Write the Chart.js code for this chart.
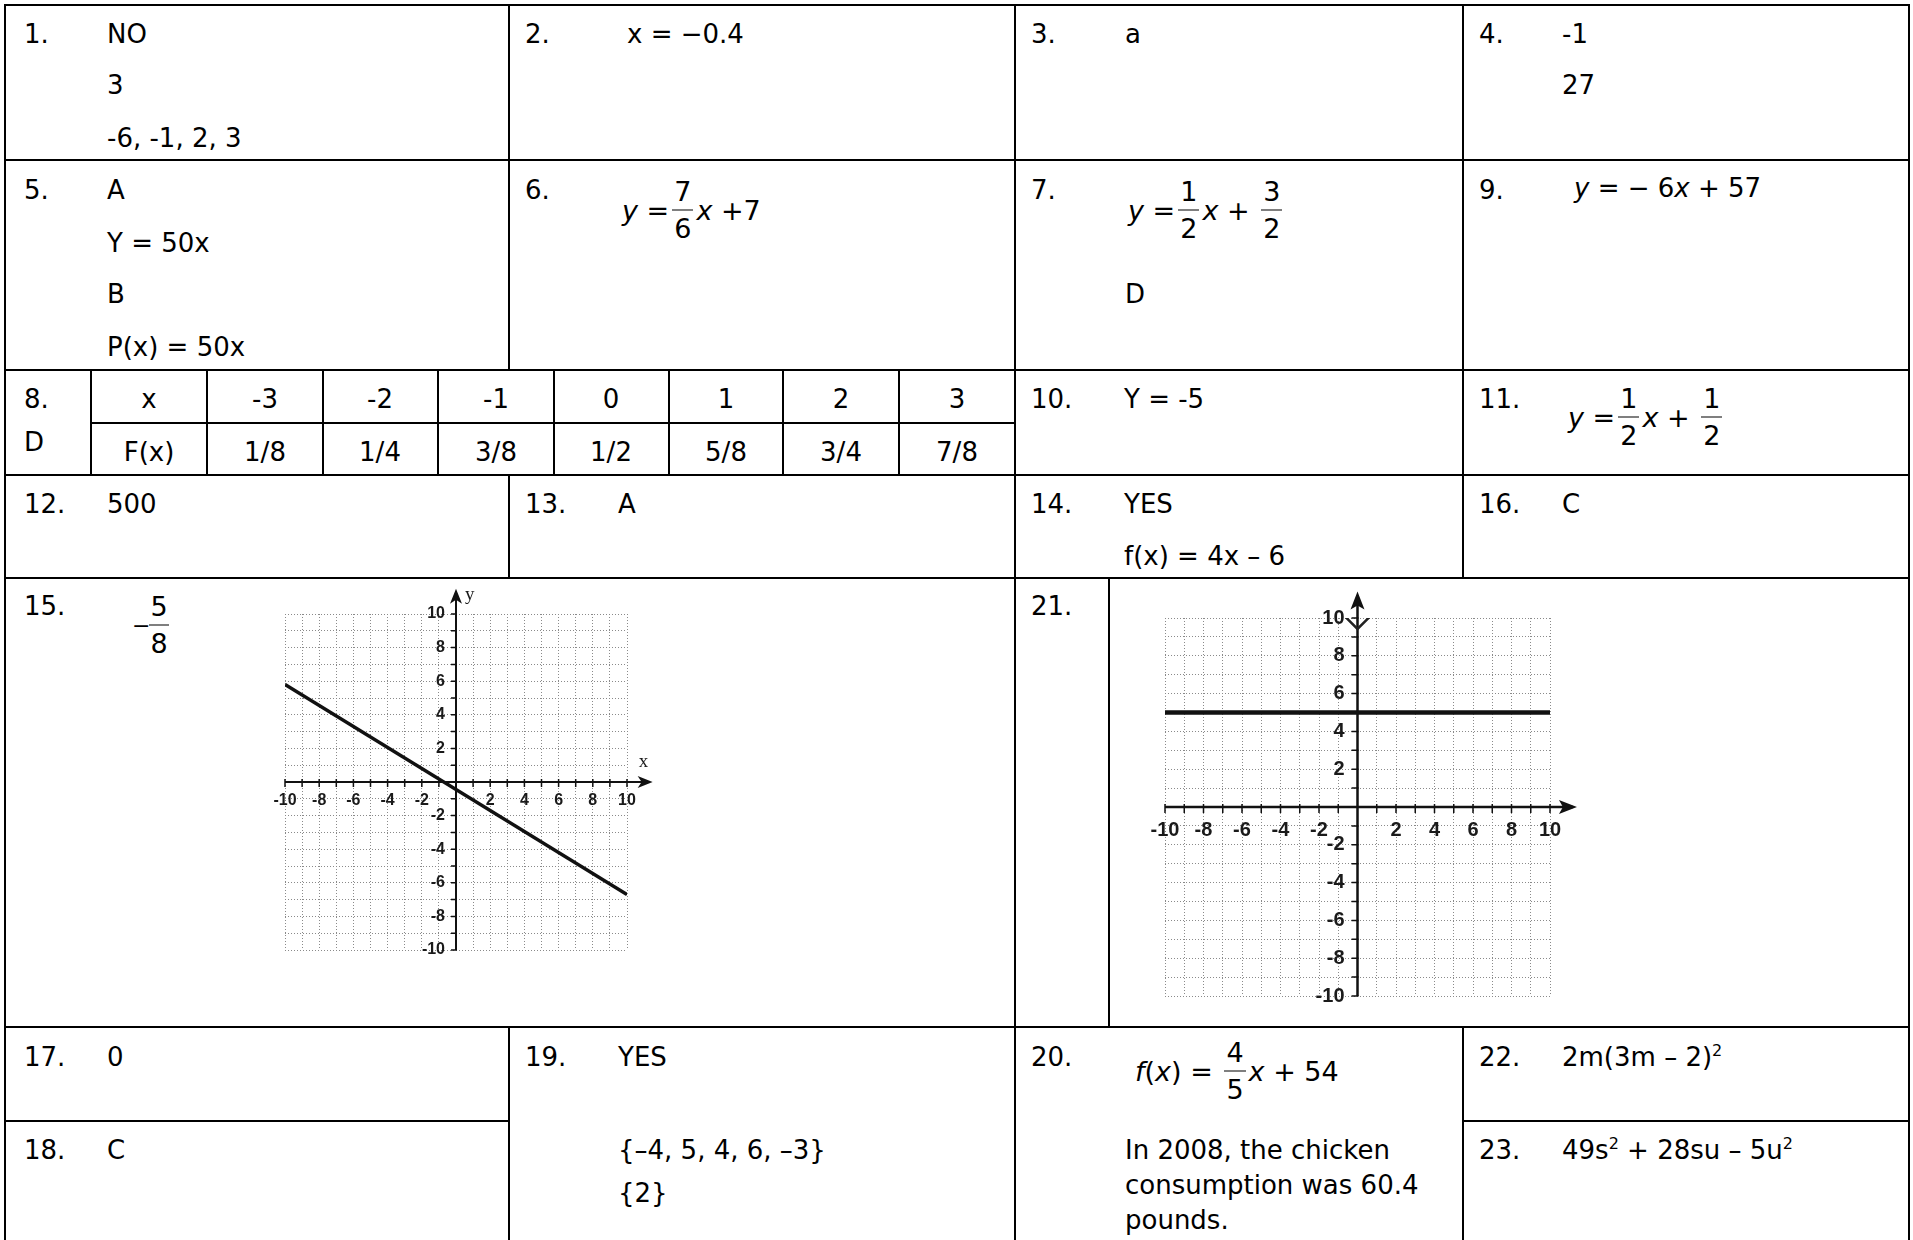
<!DOCTYPE html>
<html>
<head>
<meta charset="utf-8">
<script src="https://cdn.jsdelivr.net/npm/chart.js@4"></script>
<style>
body{margin:0;background:#fff;width:1913px;height:1240px;overflow:hidden;position:relative;font-family:"DejaVu Sans",Verdana,sans-serif;font-size:26px;color:#000}
.h{position:absolute;height:2px;background:#000}
.v{position:absolute;width:2px;background:#000}
.t{position:absolute;white-space:nowrap;line-height:32px;transform:translateY(-50%)}
.c{transform:translate(-50%,-50%)}
.eq{position:absolute;display:flex;align-items:center;white-space:nowrap;transform:translateY(-50%);font-size:27px}
.eq i{font-style:italic}
.fr{display:flex;flex-direction:column;align-items:center;margin:0 3px}
.fr span{line-height:28px;padding:0 2px}
.fr span:first-child{border-bottom:1.5px solid #000;padding-bottom:4px}
.fr span:last-child{padding-top:4px}
sup{font-size:16px;vertical-align:10px;line-height:0}
canvas{position:absolute}
</style>
</head>
<body>
<!-- table rules -->
<div class="h" style="left:4px;top:4px;width:1906px"></div>
<div class="h" style="left:4px;top:159px;width:1906px"></div>
<div class="h" style="left:4px;top:369px;width:1906px"></div>
<div class="h" style="left:90px;top:422px;width:925px"></div>
<div class="h" style="left:4px;top:474px;width:1906px"></div>
<div class="h" style="left:4px;top:577px;width:1906px"></div>
<div class="h" style="left:4px;top:1026px;width:1906px"></div>
<div class="h" style="left:4px;top:1120px;width:506px"></div>
<div class="h" style="left:1462px;top:1120px;width:448px"></div>

<div class="v" style="left:4px;top:4px;height:1236px"></div>
<div class="v" style="left:1908px;top:4px;height:1236px"></div>
<div class="v" style="left:1014px;top:4px;height:1236px"></div>
<div class="v" style="left:508px;top:4px;height:366px"></div>
<div class="v" style="left:508px;top:474px;height:104px"></div>
<div class="v" style="left:508px;top:1026px;height:214px"></div>
<div class="v" style="left:1462px;top:4px;height:574px"></div>
<div class="v" style="left:1462px;top:1026px;height:214px"></div>
<div class="v" style="left:1108px;top:577px;height:451px"></div>
<div class="v" style="left:90px;top:369px;height:106px"></div>
<div class="v" style="left:206px;top:369px;height:106px"></div>
<div class="v" style="left:322px;top:369px;height:106px"></div>
<div class="v" style="left:437px;top:369px;height:106px"></div>
<div class="v" style="left:553px;top:369px;height:106px"></div>
<div class="v" style="left:668px;top:369px;height:106px"></div>
<div class="v" style="left:782px;top:369px;height:106px"></div>
<div class="v" style="left:898px;top:369px;height:106px"></div>

<!-- row 1 -->
<div class="t" style="left:24px;top:34px">1.</div>
<div class="t" style="left:107px;top:34px">NO</div>
<div class="t" style="left:107px;top:85px">3</div>
<div class="t" style="left:107px;top:138px">-6, -1, 2, 3</div>
<div class="t" style="left:525px;top:34px">2.</div>
<div class="t" style="left:627px;top:34px">x = −0.4</div>
<div class="t" style="left:1031px;top:34px">3.</div>
<div class="t" style="left:1125px;top:34px">a</div>
<div class="t" style="left:1479px;top:34px">4.</div>
<div class="t" style="left:1562px;top:34px">-1</div>
<div class="t" style="left:1562px;top:85px">27</div>

<!-- row 2 -->
<div class="t" style="left:24px;top:190px">5.</div>
<div class="t" style="left:107px;top:190px">A</div>
<div class="t" style="left:107px;top:243px">Y = 50x</div>
<div class="t" style="left:107px;top:294px">B</div>
<div class="t" style="left:107px;top:347px">P(x) = 50x</div>
<div class="t" style="left:525px;top:190px">6.</div>
<div class="eq" style="left:622px;top:210px"><i>y</i>&nbsp;=<div class="fr"><span>7</span><span>6</span></div><i>x</i>&nbsp;+7</div>
<div class="t" style="left:1031px;top:190px">7.</div>
<div class="eq" style="left:1128px;top:210px"><i>y</i>&nbsp;=<div class="fr"><span>1</span><span>2</span></div><i>x</i>&nbsp;+&nbsp;<div class="fr"><span>3</span><span>2</span></div></div>
<div class="t" style="left:1125px;top:294px">D</div>
<div class="t" style="left:1479px;top:190px">9.</div>
<div class="eq" style="left:1574px;top:188px;font-size:26px"><i>y</i>&nbsp;=&nbsp;−&nbsp;6<i>x</i>&nbsp;+&nbsp;57</div>

<!-- row 3 -->
<div class="t" style="left:24px;top:399px">8.</div>
<div class="t" style="left:24px;top:442px">D</div>
<div class="t c" style="left:149px;top:399px">x</div>
<div class="t c" style="left:265px;top:399px">-3</div>
<div class="t c" style="left:380px;top:399px">-2</div>
<div class="t c" style="left:496px;top:399px">-1</div>
<div class="t c" style="left:611px;top:399px">0</div>
<div class="t c" style="left:726px;top:399px">1</div>
<div class="t c" style="left:841px;top:399px">2</div>
<div class="t c" style="left:957px;top:399px">3</div>
<div class="t c" style="left:149px;top:452px">F(x)</div>
<div class="t c" style="left:265px;top:452px">1/8</div>
<div class="t c" style="left:380px;top:452px">1/4</div>
<div class="t c" style="left:496px;top:452px">3/8</div>
<div class="t c" style="left:611px;top:452px">1/2</div>
<div class="t c" style="left:726px;top:452px">5/8</div>
<div class="t c" style="left:841px;top:452px">3/4</div>
<div class="t c" style="left:957px;top:452px">7/8</div>
<div class="t" style="left:1031px;top:399px">10.</div>
<div class="t" style="left:1124px;top:399px">Y = -5</div>
<div class="t" style="left:1479px;top:399px">11.</div>
<div class="eq" style="left:1568px;top:417px"><i>y</i>&nbsp;=<div class="fr"><span>1</span><span>2</span></div><i>x</i>&nbsp;+&nbsp;<div class="fr"><span>1</span><span>2</span></div></div>

<!-- row 4 -->
<div class="t" style="left:24px;top:504px">12.</div>
<div class="t" style="left:107px;top:504px">500</div>
<div class="t" style="left:525px;top:504px">13.</div>
<div class="t" style="left:618px;top:504px">A</div>
<div class="t" style="left:1031px;top:504px">14.</div>
<div class="t" style="left:1124px;top:504px">YES</div>
<div class="t" style="left:1124px;top:556px">f(x) = 4x – 6</div>
<div class="t" style="left:1479px;top:504px">16.</div>
<div class="t" style="left:1562px;top:504px">C</div>

<!-- row 5 -->
<div class="t" style="left:24px;top:606px">15.</div>
<div class="eq" style="left:132px;top:625px"><span style="font-size:22px">−</span><div class="fr" style="margin:0 0 0 -1px"><span style="padding:0 1px 4px">5</span><span style="padding:4px 1px 0">8</span></div></div>
<div class="t" style="left:1031px;top:606px">21.</div>

<!-- row 6 -->
<div class="t" style="left:24px;top:1057px">17.</div>
<div class="t" style="left:107px;top:1057px">0</div>
<div class="t" style="left:24px;top:1150px">18.</div>
<div class="t" style="left:107px;top:1150px">C</div>
<div class="t" style="left:525px;top:1057px">19.</div>
<div class="t" style="left:618px;top:1057px">YES</div>
<div class="t" style="left:618px;top:1150px">{–4, 5, 4, 6, –3}</div>
<div class="t" style="left:618px;top:1193px">{2}</div>
<div class="t" style="left:1031px;top:1057px">20.</div>
<div class="eq" style="left:1135px;top:1071px"><i>f</i>(<i>x</i>)&nbsp;=&nbsp;<div class="fr"><span>4</span><span>5</span></div><i>x</i>&nbsp;+&nbsp;54</div>
<div class="t" style="left:1125px;top:1150px">In 2008, the chicken</div>
<div class="t" style="left:1125px;top:1185px">consumption was 60.4</div>
<div class="t" style="left:1125px;top:1220px">pounds.</div>
<div class="t" style="left:1479px;top:1057px">22.</div>
<div class="t" style="left:1562px;top:1057px">2m(3m – 2)<sup>2</sup></div>
<div class="t" style="left:1479px;top:1150px">23.</div>
<div class="t" style="left:1562px;top:1150px">49s<sup>2</sup> + 28su – 5u<sup>2</sup></div>

<canvas id="graph15" width="420" height="385" style="left:250px;top:580px"></canvas>
<canvas id="graph21" width="475" height="440" style="left:1125px;top:580px"></canvas>

<script>
// integer grid ticks and the labelled ones
const gridTicks = [-10, -9, -8, -7, -6, -5, -4, -3, -2, -1, 0, 1, 2, 3, 4, 5, 6, 7, 8, 9, 10];
const axisLabels = [-10, -8, -6, -4, -2, 2, 4, 6, 8, 10];

// problem 15 line
const line15X = [-10, 10];
const line15Y = [5.8, -6.7];

// problem 21 line
const line21X = [-10, 10];
const line21Y = [5, 5];

// the pen mark at the top of the y axis in 21
const mark21X = [0];
const mark21Y = [10];

function toPoints(xs, ys) {
    return xs.map((x, i) => ({ x: x, y: ys[i] }));
}

// draws the x/y axes crossing at the origin, with ticks, arrows and labels
const crossAxes = {
    id: "crossAxes",
    beforeDatasetsDraw(chart, args, o) {
        let ctx = chart.ctx;
        let sx = chart.scales.x, sy = chart.scales.y;
        let x0 = sx.getPixelForValue(0), y0 = sy.getPixelForValue(0);
        let xl = sx.getPixelForValue(-10), xr = sx.getPixelForValue(o.arrowAt);
        let yb = sy.getPixelForValue(-10), yt = sy.getPixelForValue(o.arrowAt);

        ctx.save();
        ctx.strokeStyle = "#111";
        ctx.fillStyle = "#111";
        ctx.lineWidth = o.axisWidth;

        ctx.beginPath();
        ctx.moveTo(xl, y0); ctx.lineTo(xr - 4, y0);
        ctx.moveTo(x0, yb); ctx.lineTo(x0, yt + 4);
        ctx.stroke();

        // arrow heads
        ctx.beginPath();
        ctx.moveTo(xr, y0);
        ctx.lineTo(xr - o.arrowLen, y0 - o.arrowHalf);
        ctx.lineTo(xr - o.arrowLen + 4, y0);
        ctx.lineTo(xr - o.arrowLen, y0 + o.arrowHalf);
        ctx.closePath();
        ctx.fill();
        ctx.beginPath();
        ctx.moveTo(x0, yt);
        ctx.lineTo(x0 - o.arrowHalf, yt + o.arrowLen);
        ctx.lineTo(x0, yt + o.arrowLen - 4);
        ctx.lineTo(x0 + o.arrowHalf, yt + o.arrowLen);
        ctx.closePath();
        ctx.fill();

        // tick marks
        ctx.lineWidth = 1.5;
        ctx.beginPath();
        gridTicks.forEach(v => {
            if (v === 0) return;
            let px = sx.getPixelForValue(v);
            ctx.moveTo(px, y0 - 3); ctx.lineTo(px, y0 + o.tick);
            let py = sy.getPixelForValue(v);
            ctx.moveTo(x0 - o.tick, py); ctx.lineTo(x0 + 1, py);
        });
        ctx.stroke();

        // labels
        ctx.font = o.font;
        ctx.fillStyle = "#1a1a1a";
        ctx.textAlign = "center";
        ctx.textBaseline = "middle";
        axisLabels.forEach(v => {
            ctx.fillText(String(v), sx.getPixelForValue(v), y0 + o.xLabelGap);
        });
        ctx.textAlign = "right";
        axisLabels.forEach(v => {
            ctx.fillText(String(v), x0 - o.yLabelGap, sy.getPixelForValue(v));
        });

        if (o.names) {
            ctx.font = o.nameFont;
            ctx.textAlign = "left";
            ctx.fillText("y", x0 + 9, yt + 6);
            ctx.fillText("x", xr - 14, y0 - 20);
        }
        ctx.restore();
    }
};

function gridScale() {
    return {
        type: "linear",
        min: -10,
        max: 10,
        ticks: { display: false, stepSize: 1 },
        grid: { color: "#8a8a8a", lineWidth: 1, drawTicks: false },
        border: { display: false, dash: [1, 2] }
    };
}

function drawGraph(id, datasets, padding, axesOpts) {
    return new Chart(document.getElementById(id), {
        type: "scatter",
        data: { datasets },
        options: {
            responsive: false,
            animation: false,
            devicePixelRatio: 1,
            layout: { padding },
            scales: { x: gridScale(), y: gridScale() },
            plugins: {
                legend: { display: false },
                tooltip: { enabled: false },
                crossAxes: axesOpts
            }
        },
        plugins: [crossAxes]
    });
}

drawGraph("graph15", [{
    data: toPoints(line15X, line15Y),
    showLine: true,
    borderColor: "#111",
    borderWidth: 3.5,
    pointRadius: 0
}], { left: 35, right: 43, top: 34, bottom: 15 }, {
    arrowAt: 11.5, axisWidth: 2, arrowLen: 15, arrowHalf: 6, tick: 5,
    font: 'bold 16px "Liberation Sans", Arial, sans-serif',
    xLabelGap: 19, yLabelGap: 11,
    names: true, nameFont: '19px "Liberation Serif", serif'
});

drawGraph("graph21", [{
    data: toPoints(line21X, line21Y),
    showLine: true,
    borderColor: "#111",
    borderWidth: 4.5,
    pointRadius: 0
}, {
    data: toPoints(mark21X, mark21Y),
    showLine: false,
    pointStyle: "rectRot",
    pointRadius: 11,
    borderColor: "#222",
    borderWidth: 2.5,
    backgroundColor: "rgba(255,255,255,0)"
}], { left: 40, right: 50, top: 38, bottom: 24 }, {
    arrowAt: 11.4, axisWidth: 2.5, arrowLen: 18, arrowHalf: 7, tick: 6,
    font: 'bold 20px "Liberation Sans", Arial, sans-serif',
    xLabelGap: 23, yLabelGap: 13,
    names: false
});
</script>
</body>
</html>
